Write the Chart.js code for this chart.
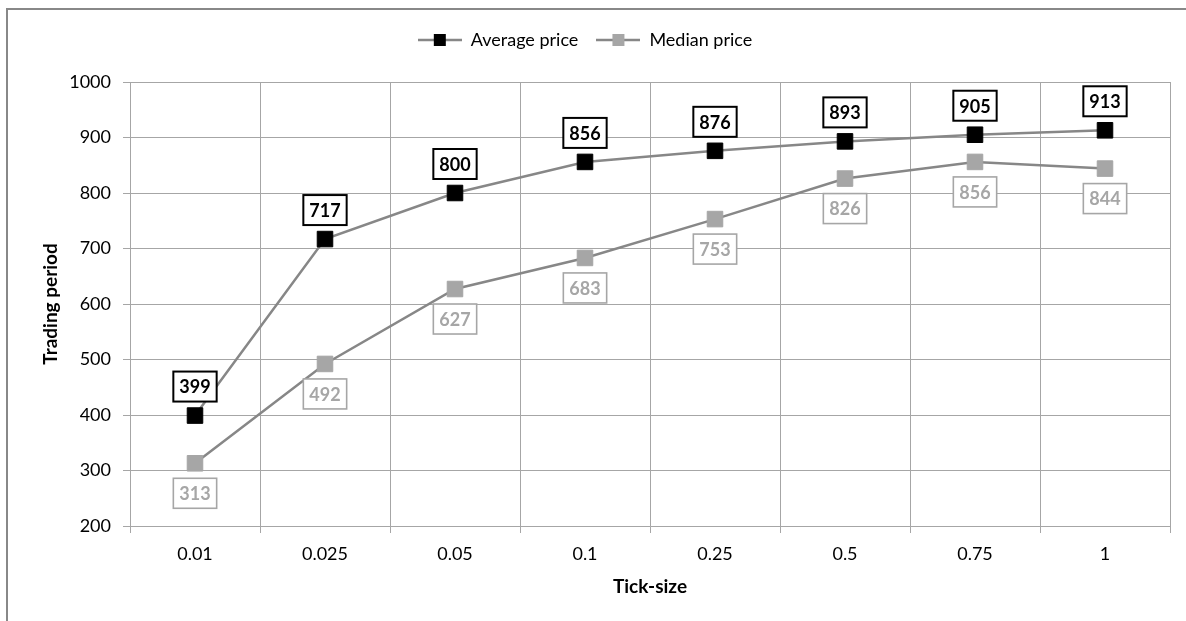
<!DOCTYPE html>
<html>
<head>
<meta charset="utf-8">
<script src="https://cdn.jsdelivr.net/npm/chart.js@4"></script>
<style>
  html, body { margin: 0; padding: 0; background: #fff; overflow: hidden; }
  #wrap { position: relative; width: 1186px; height: 621px; }
  #frame { position: absolute; left: 6px; top: 8px; width: 1200px; height: 700px;
           border-left: 2px solid #888; border-top: 2px solid #888; }
  canvas { position: absolute; left: 0; top: 0; }
</style>
</head>
<body>
<div id="wrap">
  <div id="frame"></div>
  <canvas id="chart" width="1186" height="621"></canvas>
</div>
<script>
const tickSizes = ['0.01', '0.025', '0.05', '0.1', '0.25', '0.5', '0.75', '1'];
const averagePrice = [399, 717, 800, 856, 876, 893, 905, 913];
const medianPrice = [313, 492, 627, 683, 753, 826, 856, 844];
const yTicks = [200, 300, 400, 500, 600, 700, 800, 900, 1000];

const FONT = 'Lato, "Open Sans", sans-serif';
const lineGray = '#878787';
const gridGray = '#a6a6a6';

// legend icon: short line with a square in the middle
function legendIcon(fill) {
  const c = document.createElement('canvas');
  c.width = 44; c.height = 14;
  const g = c.getContext('2d');
  g.strokeStyle = lineGray;
  g.lineWidth = 2.5;
  g.beginPath(); g.moveTo(0, 7); g.lineTo(44, 7); g.stroke();
  g.fillStyle = fill;
  g.fillRect(16, 1, 12, 12);
  return c;
}

// extra room under the legend
const legendGap = {
  id: 'legendGap',
  beforeInit(chart) {
    const fit = chart.legend.fit;
    chart.legend.fit = function () {
      fit.call(this);
      this.height += 23;
    };
  }
};

const boxLabels = {
  id: 'boxLabels',
  afterDatasetsDraw(chart) {
    const ctx = chart.ctx;
    ctx.save();
    ctx.font = 'bold 18px ' + FONT;
    ctx.textAlign = 'center';
    ctx.textBaseline = 'middle';
    chart.data.datasets.forEach((ds, i) => {
      const meta = chart.getDatasetMeta(i);
      const above = i === 0;
      meta.data.forEach((pt, j) => {
        const txt = String(ds.data[j]);
        const w = ctx.measureText(txt).width + 12;
        const h = 30;
        const cy = above ? pt.y - 29 : pt.y + 30;
        ctx.fillStyle = '#fff';
        ctx.fillRect(pt.x - w / 2, cy - h / 2, w, h);
        ctx.lineWidth = above ? 2 : 1.6;
        ctx.strokeStyle = above ? '#000' : '#a6a6a6';
        ctx.strokeRect(pt.x - w / 2, cy - h / 2, w, h);
        ctx.fillStyle = above ? '#000' : '#a6a6a6';
        ctx.fillText(txt, pt.x, cy + 1);
      });
    });
    ctx.restore();
  }
};

new Chart(document.getElementById('chart'), {
  type: 'line',
  data: {
    labels: tickSizes,
    datasets: [{
      label: 'Average price',
      data: averagePrice,
      borderColor: lineGray,
      borderWidth: 2.5,
      pointStyle: 'rect',
      pointRadius: 11,
      pointBackgroundColor: '#000',
      pointBorderColor: '#000',
      pointBorderWidth: 1,
      tension: 0
    }, {
      label: 'Median price',
      data: medianPrice,
      borderColor: lineGray,
      borderWidth: 2.5,
      pointStyle: 'rect',
      pointRadius: 11,
      pointBackgroundColor: '#a6a6a6',
      pointBorderColor: '#a6a6a6',
      pointBorderWidth: 1,
      tension: 0
    }]
  },
  options: {
    responsive: false,
    animation: false,
    layout: { padding: { left: 0, right: 16, top: 13, bottom: 0 } },
    plugins: {
      tooltip: { enabled: false },
      legend: {
        position: 'top',
        labels: {
          color: '#000',
          font: { family: FONT, size: 18 },
          usePointStyle: true,
          pointStyleWidth: 44,
          boxHeight: 14,
          padding: 18,
          generateLabels(chart) {
            return chart.data.datasets.map((ds, i) => ({
              text: ds.label,
              pointStyle: legendIcon(i === 0 ? '#000' : '#a6a6a6'),
              fillStyle: 'transparent',
              strokeStyle: 'transparent',
              lineWidth: 0,
              fontColor: '#000',
              datasetIndex: i
            }));
          }
        }
      }
    },
    scales: {
      x: {
        offset: true,
        grid: { offset: true, color: gridGray, tickLength: 7, tickColor: gridGray },
        border: { color: gridGray },
        ticks: { color: '#000', font: { family: FONT, size: 18 }, padding: 10 },
        title: { display: true, text: 'Tick-size', color: '#000',
                 font: { family: FONT, size: 19, weight: 'bold' }, padding: { top: 4, bottom: 23 } },
        afterFit(scale) { scale.height = 95; }
      },
      y: {
        min: 200,
        max: 1000,
        afterBuildTicks(scale) { scale.ticks = yTicks.map(v => ({ value: v })); },
        grid: { color: gridGray, tickLength: 7, tickColor: gridGray },
        border: { color: gridGray },
        ticks: { color: '#000', font: { family: FONT, size: 18 }, padding: 12,
                 callback: v => String(v) },
        title: { display: true, text: 'Trading period', color: '#000',
                 font: { family: FONT, size: 19, weight: 'bold' }, padding: { top: 39, bottom: 0 } },
        afterFit(scale) { scale.width = 130; }
      }
    }
  },
  plugins: [legendGap, boxLabels]
});
</script>
</body>
</html>
